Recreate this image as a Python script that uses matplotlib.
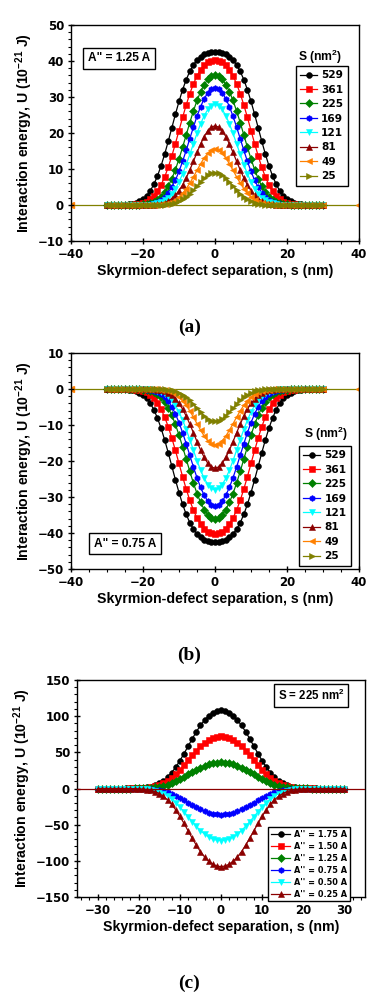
import matplotlib
matplotlib.use("Agg")
import matplotlib.pyplot as plt
from matplotlib.ticker import MultipleLocator

plt.rcParams['mathtext.fontset'] = 'custom'
plt.rcParams['mathtext.rm'] = 'Liberation Sans:bold'
plt.rcParams['mathtext.bf'] = 'Liberation Sans:bold'
plt.rcParams['mathtext.it'] = 'Liberation Sans:bold'

# ---------------- data (half profiles, s = 0..30 nm, symmetric) ----------------
s_half = list(range(0, 31))

# panel (a): A'' = 1.25 A
sizes = ["529", "361", "225", "169", "121", "81", "49", "25"]
A529 = [42.5, 42.43, 42.23, 41.84, 41.21, 40.26, 38.92, 37.12, 34.82, 32.02, 28.76, 25.18, 21.42, 17.65, 14.07, 10.81, 8.01, 5.71, 3.91, 2.57, 1.61, 0.98, 0.56, 0.31, 0.16, 0.08, 0.04, 0.02, 0.01, 0.0, 0.0]
A361 = [40.3, 40.13, 39.66, 38.82, 37.57, 35.85, 33.63, 30.93, 27.79, 24.33, 20.69, 17.05, 13.59, 10.45, 7.74, 5.52, 3.77, 2.48, 1.56, 0.94, 0.54, 0.30, 0.16, 0.08, 0.04, 0.02, 0.01, 0.0, 0.0, 0.0, 0.0]
A225 = [36.0, 35.72, 34.88, 33.47, 31.51, 29.03, 26.12, 22.88, 19.46, 16.04, 12.79, 9.83, 7.28, 5.19, 3.55, 2.33, 1.47, 0.89, 0.51, 0.28, 0.15, 0.07, 0.04, 0.02, 0.01, 0.0, 0.0, 0.0, 0.0, 0.0, 0.0]
A169 = [32.5, 32.16, 31.16, 29.53, 27.33, 24.66, 21.64, 18.43, 15.20, 12.12, 9.32, 6.90, 4.92, 3.37, 2.21, 1.39, 0.84, 0.48, 0.27, 0.14, 0.07, 0.03, 0.02, 0.01, 0.0, 0.0, 0.0, 0.0, 0.0, 0.0, 0.0]
A121 = [28.0, 27.63, 26.55, 24.82, 22.55, 19.89, 16.99, 14.05, 11.22, 8.63, 6.40, 4.56, 3.12, 2.05, 1.29, 0.78, 0.45, 0.25, 0.13, 0.07, 0.03, 0.01, 0.0, 0.0, 0.0, 0.0, 0.0, 0.0, 0.0, 0.0, 0.0]
A81 = [22.0, 21.65, 20.63, 19.02, 16.95, 14.61, 12.14, 9.74, 7.52, 5.58, 3.99, 2.73, 1.79, 1.13, 0.68, 0.39, 0.22, 0.11, 0.06, 0.03, 0.01, 0.0, 0.0, 0.0, 0.0, 0.0, 0.0, 0.0, 0.0, 0.0, 0.0]
A49 = [15.5, 15.21, 14.37, 13.07, 11.45, 9.64, 7.81, 6.07, 4.54, 3.25, 2.24, 1.47, 0.93, 0.56, 0.32, 0.18, 0.09, 0.05, 0.02, 0.01, 0.0, 0.0, 0.0, 0.0, 0.0, 0.0, 0.0, 0.0, 0.0, 0.0, 0.0]
A25 = [9.0, 8.81, 8.26, 7.43, 6.40, 5.29, 4.18, 3.16, 2.29, 1.59, 1.05, 0.67, 0.41, 0.23, 0.13, 0.07, 0.03, 0.02, 0.01, 0.0, 0.0, 0.0, 0.0, 0.0, 0.0, 0.0, 0.0, 0.0, 0.0, 0.0, 0.0]

# panel (b): A'' = 0.75 A
B529 = [-42.5, -42.43, -42.23, -41.84, -41.21, -40.26, -38.92, -37.12, -34.82, -32.02, -28.76, -25.18, -21.42, -17.65, -14.07, -10.81, -8.01, -5.71, -3.91, -2.57, -1.61, -0.98, -0.56, -0.31, -0.16, -0.08, -0.04, -0.02, -0.01, 0.0, 0.0]
B361 = [-40.3, -40.13, -39.66, -38.82, -37.57, -35.85, -33.63, -30.93, -27.79, -24.33, -20.69, -17.05, -13.59, -10.45, -7.74, -5.52, -3.77, -2.48, -1.56, -0.94, -0.54, -0.30, -0.16, -0.08, -0.04, -0.02, -0.01, 0.0, 0.0, 0.0, 0.0]
B225 = [-36.0, -35.72, -34.88, -33.47, -31.51, -29.03, -26.12, -22.88, -19.46, -16.04, -12.79, -9.83, -7.28, -5.19, -3.55, -2.33, -1.47, -0.89, -0.51, -0.28, -0.15, -0.07, -0.04, -0.02, -0.01, 0.0, 0.0, 0.0, 0.0, 0.0, 0.0]
B169 = [-32.5, -32.16, -31.16, -29.53, -27.33, -24.66, -21.64, -18.43, -15.20, -12.12, -9.32, -6.90, -4.92, -3.37, -2.21, -1.39, -0.84, -0.48, -0.27, -0.14, -0.07, -0.03, -0.02, -0.01, 0.0, 0.0, 0.0, 0.0, 0.0, 0.0, 0.0]
B121 = [-28.0, -27.63, -26.55, -24.82, -22.55, -19.89, -16.99, -14.05, -11.22, -8.63, -6.40, -4.56, -3.12, -2.05, -1.29, -0.78, -0.45, -0.25, -0.13, -0.07, -0.03, -0.01, 0.0, 0.0, 0.0, 0.0, 0.0, 0.0, 0.0, 0.0, 0.0]
B81 = [-22.0, -21.65, -20.63, -19.02, -16.95, -14.61, -12.14, -9.74, -7.52, -5.58, -3.99, -2.73, -1.79, -1.13, -0.68, -0.39, -0.22, -0.11, -0.06, -0.03, -0.01, 0.0, 0.0, 0.0, 0.0, 0.0, 0.0, 0.0, 0.0, 0.0, 0.0]
B49 = [-15.5, -15.21, -14.37, -13.07, -11.45, -9.64, -7.81, -6.07, -4.54, -3.25, -2.24, -1.47, -0.93, -0.56, -0.32, -0.18, -0.09, -0.05, -0.02, -0.01, 0.0, 0.0, 0.0, 0.0, 0.0, 0.0, 0.0, 0.0, 0.0, 0.0, 0.0]
B25 = [-9.0, -8.81, -8.26, -7.43, -6.40, -5.29, -4.18, -3.16, -2.29, -1.59, -1.05, -0.67, -0.41, -0.23, -0.13, -0.07, -0.03, -0.02, -0.01, 0.0, 0.0, 0.0, 0.0, 0.0, 0.0, 0.0, 0.0, 0.0, 0.0, 0.0, 0.0]

# panel (c): S = 225 nm^2
ratios = ["1.75", "1.50", "1.25", "0.75", "0.50", "0.25"]
C175 = [108.0, 107.2, 104.6, 100.4, 94.5, 87.1, 78.4, 68.6, 58.4, 48.1, 38.4, 29.5, 21.8, 15.6, 10.7, 7.0, 4.4, 2.7, 1.5, 0.8, 0.5, 0.2, 0.1, 0.1, 0.0, 0.0, 0.0, 0.0, 0.0, 0.0, 0.0]
C150 = [72.0, 71.4, 69.8, 66.9, 63.0, 58.1, 52.2, 45.8, 38.9, 32.1, 25.6, 19.7, 14.6, 10.4, 7.1, 4.7, 2.9, 1.8, 1.0, 0.6, 0.3, 0.1, 0.1, 0.0, 0.0, 0.0, 0.0, 0.0, 0.0, 0.0, 0.0]
C125 = [36.0, 35.7, 34.9, 33.5, 31.5, 29.0, 26.1, 22.9, 19.5, 16.0, 12.8, 9.8, 7.3, 5.2, 3.6, 2.3, 1.5, 0.9, 0.5, 0.3, 0.2, 0.1, 0.0, 0.0, 0.0, 0.0, 0.0, 0.0, 0.0, 0.0, 0.0]
C075 = [-36.0, -35.7, -34.9, -33.5, -31.5, -29.0, -26.1, -22.9, -19.5, -16.0, -12.8, -9.8, -7.3, -5.2, -3.6, -2.3, -1.5, -0.9, -0.5, -0.3, -0.2, -0.1, 0.0, 0.0, 0.0, 0.0, 0.0, 0.0, 0.0, 0.0, 0.0]
C050 = [-72.0, -71.4, -69.8, -66.9, -63.0, -58.1, -52.2, -45.8, -38.9, -32.1, -25.6, -19.7, -14.6, -10.4, -7.1, -4.7, -2.9, -1.8, -1.0, -0.6, -0.3, -0.1, -0.1, 0.0, 0.0, 0.0, 0.0, 0.0, 0.0, 0.0, 0.0]
C025 = [-108.0, -107.2, -104.6, -100.4, -94.5, -87.1, -78.4, -68.6, -58.4, -48.1, -38.4, -29.5, -21.8, -15.6, -10.7, -7.0, -4.4, -2.7, -1.5, -0.8, -0.5, -0.2, -0.1, -0.1, 0.0, 0.0, 0.0, 0.0, 0.0, 0.0, 0.0]

# baseline extension (zero energy far from the defect)
s_edge = [-40, 40]
u_edge = [0.0, 0.0]

# ---------------- styles ----------------
colors8 = ['black', '#FF0000', '#008000', '#0000FF', '#00FFFF', '#8B0000', '#FF8000', '#808000']
markers8 = ['o', 's', 'D', 'h', 'v', '^', '<', '>']
colors6 = ['black', '#FF0000', '#008000', '#0000FF', '#00FFFF', '#8B0000']
markers6 = ['o', 's', 'D', 'h', 'v', '^']


def full(half_vals):
    s = [-v for v in reversed(s_half[1:])] + s_half
    u = list(reversed(half_vals[1:])) + list(half_vals)
    return s, u


LBL = dict(family='Liberation Sans', weight='bold', size=10.2)


def style_axes(ax, xmaj, xmin, ymaj, ymin):
    ax.xaxis.set_major_locator(MultipleLocator(xmaj))
    ax.xaxis.set_minor_locator(MultipleLocator(xmin))
    ax.yaxis.set_major_locator(MultipleLocator(ymaj))
    ax.yaxis.set_minor_locator(MultipleLocator(ymin))
    ax.tick_params(which='major', direction='inout', length=5, width=1.0, labelsize=8.5, pad=2.5)
    ax.tick_params(which='minor', direction='out', length=2.5, width=0.8)
    for lab in ax.get_xticklabels() + ax.get_yticklabels():
        lab.set_fontweight('bold')
        lab.set_family('DejaVu Sans')
    for sp in ax.spines.values():
        sp.set_linewidth(1.0)
    ax.set_xlabel('Skyrmion-defect separation, s (nm)', labelpad=2.5, **LBL)
    ax.set_ylabel(r'Interaction energy, U (10$^{-21}$ J)', labelpad=2, **LBL)


fig = plt.figure(figsize=(3.92, 10.08), dpi=100)
axa = fig.add_axes([0.181, 0.7609, 0.735, 0.2143])
axb = fig.add_axes([0.181, 0.4355, 0.735, 0.2143])
axc = fig.add_axes([0.1964, 0.1101, 0.7347, 0.2153])

MS = 4.2

# ---- panel (a)
series_a = [A529, A361, A225, A169, A121, A81, A49, A25]
for vals, lab, c, m in zip(series_a, sizes, colors8, markers8):
    s, u = full(vals)
    axa.plot(s, u, color=c, marker=m, ms=MS, mew=0.4, lw=0.9, label=lab)
axa.plot(s_edge, u_edge, color='#808000', lw=0.9, zorder=1)
axa.plot(s_edge, u_edge, ls='none', marker='<', color='#FF8000', ms=MS, zorder=1)
axa.set_xlim(-40, 40)
axa.set_ylim(-10, 50)
style_axes(axa, 20, 5, 10, 2)
leg = axa.legend(loc='upper left', bbox_to_anchor=(0.781, 0.810), borderaxespad=0,
                 prop=dict(family='DejaVu Sans', weight='bold', size=7.6),
                 handlelength=1.6, handletextpad=0.4, labelspacing=0.42, borderpad=0.4,
                 fancybox=False, edgecolor='black', framealpha=1)
leg.get_frame().set_linewidth(1.0)
axa.text(0.865, 0.852, r'S (nm$^2$)', transform=axa.transAxes, ha='center', va='center',
         family='Liberation Sans', weight='bold', size=8.7)
axa.text(0.168, 0.845, 'A" = 1.25 A', transform=axa.transAxes, ha='center', va='center',
         family='Liberation Sans', weight='bold', size=8.6,
         bbox=dict(boxstyle='square,pad=0.4', fc='white', ec='black', lw=1.0))

# ---- panel (b)
series_b = [B529, B361, B225, B169, B121, B81, B49, B25]
for vals, lab, c, m in zip(series_b, sizes, colors8, markers8):
    s, u = full(vals)
    axb.plot(s, u, color=c, marker=m, ms=MS, mew=0.4, lw=0.9, label=lab)
axb.plot(s_edge, u_edge, color='#808000', lw=0.9, zorder=1)
axb.plot(s_edge, u_edge, ls='none', marker='<', color='#FF8000', ms=MS, zorder=1)
axb.set_xlim(-40, 40)
axb.set_ylim(-50, 10)
style_axes(axb, 20, 5, 10, 2)
leg = axb.legend(loc='upper left', bbox_to_anchor=(0.792, 0.569), borderaxespad=0,
                 prop=dict(family='DejaVu Sans', weight='bold', size=7.6),
                 handlelength=1.6, handletextpad=0.4, labelspacing=0.42, borderpad=0.4,
                 fancybox=False, edgecolor='black', framealpha=1)
leg.get_frame().set_linewidth(1.0)
axb.text(0.885, 0.625, r'S (nm$^2$)', transform=axb.transAxes, ha='center', va='center',
         family='Liberation Sans', weight='bold', size=8.7)
axb.text(0.1875, 0.118, 'A" = 0.75 A', transform=axb.transAxes, ha='center', va='center',
         family='Liberation Sans', weight='bold', size=8.6,
         bbox=dict(boxstyle='square,pad=0.4', fc='white', ec='black', lw=1.0))

# ---- panel (c)
series_c = [C175, C150, C125, C075, C050, C025]
for vals, r, c, m in zip(series_c, ratios, colors6, markers6):
    s, u = full(vals)
    axc.plot(s, u, color=c, marker=m, ms=MS, mew=0.4, lw=0.9, label="A'' = %s A" % r)
axc.plot(s_edge, u_edge, color='#8B0000', lw=0.9, zorder=3)
axc.set_xlim(-35, 35)
axc.set_ylim(-150, 150)
style_axes(axc, 10, 2, 50, 10)
leg = axc.legend(loc='upper left', bbox_to_anchor=(0.663, 0.323), borderaxespad=0,
                 prop=dict(family='DejaVu Sans', weight='bold', size=5.9),
                 handlelength=2.4, handletextpad=0.4, labelspacing=0.36, borderpad=0.35,
                 fancybox=False, edgecolor='black', framealpha=1)
leg.get_frame().set_linewidth(1.0)
axc.text(0.8125, 0.9286, r'S = 225 nm$^2$', transform=axc.transAxes, ha='center', va='center',
         family='Liberation Sans', weight='bold', size=8.3,
         bbox=dict(boxstyle='square,pad=0.35', fc='white', ec='black', lw=1.0))

# panel labels
for y, t in [(0.6756, '(a)'), (0.3502, '(b)'), (0.0248, '(c)')]:
    fig.text(0.483, y, t, ha='center', va='center', family='Liberation Serif', weight='bold', size=14)

fig.savefig('out.png', dpi=100)
